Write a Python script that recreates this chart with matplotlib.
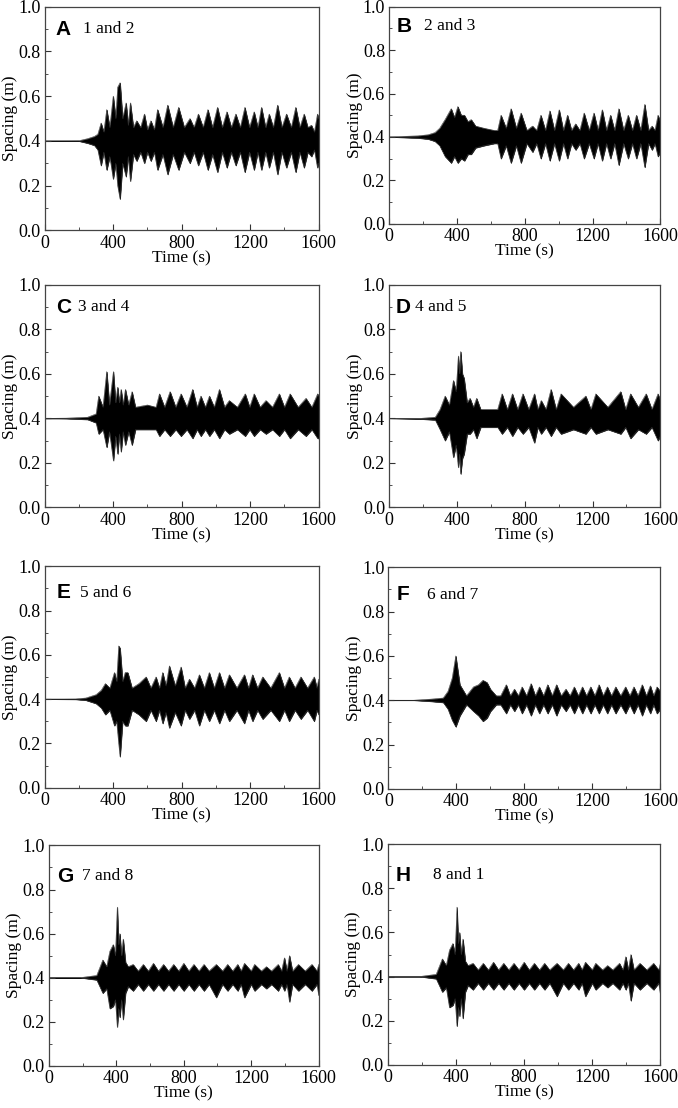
import matplotlib
matplotlib.use('Agg')
import matplotlib.pyplot as plt
from matplotlib.ticker import MultipleLocator

# envelope of the spacing signal (upper / lower)
tA = [0, 200, 250, 290, 310, 329, 345, 362, 380, 400, 415, 426, 440, 455, 475, 488, 500, 518, 537, 560,
      582, 600, 620, 640, 659, 690, 718, 750, 782, 815, 848, 872, 897, 925, 953, 980, 1009, 1037, 1064, 1090,
      1116, 1142, 1169, 1196, 1223, 1245, 1266, 1290, 1311, 1335, 1360, 1385, 1412, 1440, 1466, 1490, 1515, 1537, 1558, 1575,
      1593, 1600]
upA = [0.400, 0.401, 0.41, 0.42, 0.43, 0.48, 0.44, 0.54, 0.46, 0.60, 0.50, 0.64, 0.66, 0.50, 0.57, 0.47, 0.57, 0.46, 0.49, 0.46,
       0.52, 0.45, 0.49, 0.45, 0.54, 0.46, 0.56, 0.46, 0.55, 0.46, 0.50, 0.46, 0.52, 0.46, 0.54, 0.46, 0.55, 0.46, 0.53, 0.46,
       0.52, 0.46, 0.55, 0.46, 0.53, 0.46, 0.55, 0.46, 0.52, 0.46, 0.56, 0.46, 0.52, 0.46, 0.55, 0.46, 0.52, 0.46, 0.47, 0.44,
       0.52, 0.50]
loA = [0.400, 0.399, 0.39, 0.38, 0.36, 0.29, 0.35, 0.27, 0.33, 0.23, 0.30, 0.20, 0.14, 0.30, 0.24, 0.33, 0.22, 0.34, 0.31, 0.35,
       0.30, 0.35, 0.31, 0.35, 0.27, 0.34, 0.25, 0.34, 0.27, 0.35, 0.30, 0.35, 0.29, 0.35, 0.27, 0.34, 0.26, 0.35, 0.28, 0.35,
       0.29, 0.35, 0.26, 0.35, 0.27, 0.35, 0.27, 0.35, 0.28, 0.35, 0.25, 0.35, 0.28, 0.35, 0.26, 0.35, 0.28, 0.35, 0.33, 0.36,
       0.28, 0.30]

tB = [0, 170, 230, 270, 298, 330, 366, 385, 405, 425, 444, 465, 484, 510, 560, 620, 640, 660, 690, 719,
      750, 778, 812, 846, 870, 895, 922, 948, 975, 1003, 1028, 1052, 1076, 1100, 1125, 1150, 1180, 1208, 1232, 1257,
      1282, 1306, 1330, 1355, 1383, 1410, 1435, 1459, 1484, 1508, 1530, 1551, 1568, 1586, 1600]
upB = [0.400, 0.405, 0.41, 0.42, 0.44, 0.48, 0.53, 0.49, 0.54, 0.50, 0.50, 0.47, 0.48, 0.45, 0.44, 0.43, 0.43, 0.50, 0.44, 0.53,
       0.44, 0.51, 0.43, 0.45, 0.43, 0.50, 0.43, 0.52, 0.43, 0.525, 0.43, 0.50, 0.43, 0.46, 0.43, 0.51, 0.43, 0.51, 0.43, 0.525,
       0.43, 0.50, 0.43, 0.53, 0.43, 0.50, 0.43, 0.50, 0.43, 0.55, 0.43, 0.45, 0.43, 0.50, 0.47]
loB = [0.400, 0.395, 0.39, 0.38, 0.36, 0.31, 0.28, 0.31, 0.28, 0.30, 0.29, 0.32, 0.32, 0.35, 0.36, 0.37, 0.37, 0.30, 0.36, 0.28,
       0.36, 0.28, 0.37, 0.33, 0.37, 0.30, 0.37, 0.29, 0.37, 0.29, 0.37, 0.30, 0.37, 0.34, 0.37, 0.30, 0.37, 0.30, 0.37, 0.29,
       0.37, 0.30, 0.37, 0.27, 0.37, 0.30, 0.37, 0.30, 0.37, 0.26, 0.37, 0.34, 0.37, 0.31, 0.33]

tC = [0, 125, 250, 300, 315, 340, 362, 378, 401, 414, 426, 436, 446, 458, 471, 490, 510, 530, 600, 650,
      670, 700, 732, 765, 796, 830, 864, 890, 912, 938, 962, 990, 1020, 1050, 1078, 1125, 1171, 1197, 1223, 1258,
      1292, 1330, 1370, 1400, 1433, 1480, 1526, 1560, 1594, 1600]
upC = [0.400, 0.401, 0.405, 0.42, 0.50, 0.45, 0.61, 0.46, 0.61, 0.47, 0.54, 0.47, 0.53, 0.46, 0.53, 0.46, 0.52, 0.45, 0.46, 0.45,
       0.51, 0.45, 0.52, 0.45, 0.51, 0.45, 0.53, 0.45, 0.50, 0.45, 0.50, 0.45, 0.53, 0.45, 0.48, 0.45, 0.51, 0.45, 0.51, 0.45,
       0.48, 0.45, 0.51, 0.45, 0.51, 0.45, 0.49, 0.45, 0.51, 0.50]
loC = [0.400, 0.399, 0.395, 0.38, 0.33, 0.35, 0.27, 0.34, 0.21, 0.32, 0.24, 0.33, 0.25, 0.34, 0.28, 0.34, 0.28, 0.35, 0.35, 0.35,
       0.32, 0.35, 0.32, 0.35, 0.32, 0.35, 0.31, 0.35, 0.32, 0.35, 0.32, 0.35, 0.31, 0.35, 0.33, 0.35, 0.32, 0.35, 0.32, 0.35,
       0.33, 0.35, 0.32, 0.35, 0.31, 0.35, 0.32, 0.35, 0.31, 0.31]

tD = [0, 184, 272, 300, 330, 355, 379, 395, 408, 415, 422, 432, 442, 460, 477, 497, 516, 540, 640, 666,
      697, 727, 758, 789, 823, 857, 877, 897, 925, 955, 985, 1014, 1087, 1160, 1190, 1219, 1290, 1366, 1395, 1424,
      1470, 1516, 1550, 1586, 1600]
upD = [0.400, 0.400, 0.405, 0.44, 0.50, 0.46, 0.57, 0.52, 0.68, 0.60, 0.70, 0.60, 0.58, 0.47, 0.49, 0.45, 0.49, 0.44, 0.44, 0.51,
       0.44, 0.51, 0.44, 0.51, 0.44, 0.51, 0.44, 0.48, 0.44, 0.53, 0.44, 0.51, 0.45, 0.50, 0.44, 0.51, 0.45, 0.52, 0.44, 0.51,
       0.45, 0.51, 0.44, 0.51, 0.48]
loD = [0.400, 0.397, 0.393, 0.35, 0.30, 0.34, 0.225, 0.28, 0.18, 0.24, 0.15, 0.22, 0.24, 0.33, 0.33, 0.35, 0.31, 0.36, 0.36, 0.33,
       0.36, 0.32, 0.36, 0.33, 0.36, 0.29, 0.36, 0.33, 0.36, 0.32, 0.36, 0.33, 0.35, 0.33, 0.36, 0.33, 0.35, 0.33, 0.36, 0.31,
       0.35, 0.33, 0.36, 0.30, 0.32]

tE = [0, 180, 240, 300, 330, 354, 380, 407, 420, 432, 440, 455, 470, 485, 510, 550, 592, 620, 650, 670,
      689, 708, 728, 762, 796, 820, 845, 875, 903, 932, 961, 990, 1020, 1050, 1078, 1122, 1166, 1190, 1214, 1243,
      1273, 1320, 1370, 1400, 1428, 1462, 1496, 1535, 1574, 1590, 1600]
upE = [0.400, 0.401, 0.405, 0.42, 0.44, 0.47, 0.45, 0.52, 0.48, 0.64, 0.63, 0.48, 0.52, 0.52, 0.45, 0.47, 0.50, 0.45, 0.50, 0.45,
       0.52, 0.46, 0.55, 0.46, 0.545, 0.45, 0.49, 0.45, 0.51, 0.45, 0.52, 0.45, 0.52, 0.45, 0.51, 0.45, 0.51, 0.45, 0.51, 0.45,
       0.50, 0.45, 0.52, 0.45, 0.50, 0.45, 0.50, 0.45, 0.50, 0.45, 0.49]
loE = [0.400, 0.399, 0.395, 0.38, 0.36, 0.33, 0.35, 0.28, 0.30, 0.20, 0.14, 0.30, 0.28, 0.28, 0.35, 0.33, 0.30, 0.35, 0.30, 0.35,
       0.29, 0.34, 0.27, 0.34, 0.28, 0.35, 0.31, 0.35, 0.28, 0.35, 0.30, 0.35, 0.29, 0.35, 0.30, 0.35, 0.29, 0.35, 0.30, 0.35,
       0.31, 0.35, 0.30, 0.35, 0.30, 0.35, 0.31, 0.35, 0.30, 0.35, 0.33]

tF = [0, 146, 250, 322, 350, 375, 396, 420, 459, 500, 530, 556, 580, 600, 634, 660, 693, 717, 741, 764,
      786, 812, 839, 864, 888, 912, 937, 963, 989, 1016, 1044, 1068, 1093, 1117, 1141, 1165, 1190, 1214, 1239, 1263,
      1288, 1312, 1337, 1366, 1395, 1420, 1444, 1468, 1493, 1517, 1541, 1560, 1580, 1600]
upF = [0.400, 0.400, 0.405, 0.41, 0.44, 0.50, 0.60, 0.47, 0.42, 0.46, 0.47, 0.49, 0.48, 0.45, 0.42, 0.42, 0.47, 0.42, 0.45, 0.42,
       0.46, 0.42, 0.475, 0.42, 0.46, 0.42, 0.47, 0.42, 0.47, 0.42, 0.45, 0.42, 0.46, 0.42, 0.46, 0.42, 0.46, 0.42, 0.47, 0.42,
       0.46, 0.42, 0.46, 0.42, 0.46, 0.42, 0.46, 0.42, 0.47, 0.42, 0.465, 0.42, 0.46, 0.44]
loF = [0.400, 0.400, 0.395, 0.39, 0.36, 0.31, 0.28, 0.33, 0.38, 0.35, 0.33, 0.305, 0.32, 0.35, 0.38, 0.38, 0.34, 0.38, 0.35, 0.38,
       0.34, 0.38, 0.33, 0.38, 0.34, 0.38, 0.34, 0.38, 0.33, 0.38, 0.35, 0.38, 0.34, 0.38, 0.34, 0.38, 0.34, 0.38, 0.34, 0.38,
       0.34, 0.38, 0.34, 0.38, 0.34, 0.38, 0.34, 0.38, 0.33, 0.38, 0.34, 0.38, 0.34, 0.36]

tG = [0, 185, 284, 320, 343, 362, 382, 395, 406, 414, 421, 431, 441, 455, 471, 500, 530, 560, 590, 620,
      650, 680, 710, 740, 770, 800, 830, 860, 890, 920, 950, 993, 1030, 1060, 1090, 1120, 1140, 1160, 1200, 1220,
      1260, 1290, 1320, 1360, 1380, 1397, 1412, 1427, 1445, 1480, 1520, 1560, 1590, 1600]
upG = [0.400, 0.400, 0.41, 0.48, 0.45, 0.52, 0.55, 0.50, 0.72, 0.55, 0.60, 0.50, 0.575, 0.47, 0.45, 0.46, 0.43, 0.46, 0.43, 0.465,
       0.43, 0.46, 0.43, 0.46, 0.43, 0.465, 0.43, 0.46, 0.43, 0.46, 0.43, 0.46, 0.43, 0.46, 0.43, 0.46, 0.43, 0.465, 0.43, 0.46,
       0.43, 0.45, 0.43, 0.46, 0.43, 0.49, 0.43, 0.50, 0.43, 0.46, 0.43, 0.46, 0.43, 0.46]
loG = [0.400, 0.400, 0.39, 0.33, 0.35, 0.26, 0.27, 0.30, 0.176, 0.26, 0.22, 0.30, 0.21, 0.33, 0.36, 0.34, 0.37, 0.34, 0.37, 0.34,
       0.37, 0.34, 0.37, 0.34, 0.37, 0.34, 0.37, 0.34, 0.37, 0.34, 0.37, 0.31, 0.37, 0.34, 0.37, 0.34, 0.37, 0.31, 0.37, 0.34,
       0.37, 0.35, 0.37, 0.34, 0.37, 0.34, 0.37, 0.29, 0.37, 0.34, 0.37, 0.34, 0.37, 0.32]

tH = [0, 185, 284, 320, 343, 362, 382, 395, 406, 414, 421, 431, 441, 455, 471, 500, 530, 560, 590, 620,
      650, 680, 710, 740, 770, 800, 830, 860, 890, 920, 950, 993, 1030, 1060, 1090, 1120, 1140, 1160, 1200, 1220,
      1260, 1290, 1320, 1360, 1380, 1397, 1412, 1427, 1445, 1480, 1520, 1560, 1590, 1600]
upH = [0.400, 0.400, 0.41, 0.48, 0.45, 0.52, 0.55, 0.50, 0.715, 0.55, 0.60, 0.50, 0.57, 0.47, 0.45, 0.46, 0.43, 0.46, 0.43, 0.465,
       0.43, 0.46, 0.43, 0.46, 0.43, 0.465, 0.43, 0.46, 0.43, 0.46, 0.43, 0.46, 0.43, 0.46, 0.43, 0.46, 0.43, 0.465, 0.43, 0.46,
       0.43, 0.45, 0.43, 0.46, 0.43, 0.49, 0.43, 0.50, 0.43, 0.46, 0.43, 0.46, 0.43, 0.46]
loH = [0.400, 0.400, 0.39, 0.33, 0.35, 0.26, 0.27, 0.30, 0.175, 0.26, 0.22, 0.30, 0.21, 0.33, 0.36, 0.34, 0.37, 0.34, 0.37, 0.34,
       0.37, 0.34, 0.37, 0.34, 0.37, 0.34, 0.37, 0.34, 0.37, 0.34, 0.37, 0.31, 0.37, 0.34, 0.37, 0.34, 0.37, 0.31, 0.37, 0.34,
       0.37, 0.35, 0.37, 0.34, 0.37, 0.34, 0.37, 0.29, 0.37, 0.34, 0.37, 0.34, 0.37, 0.32]

letters = ['A', 'B', 'C', 'D', 'E', 'F', 'G', 'H']
pairs = ['1 and 2', '2 and 3', '3 and 4', '4 and 5', '5 and 6', '6 and 7', '7 and 8', '8 and 1']
series = [(tA, upA, loA), (tB, upB, loB), (tC, upC, loC), (tD, upD, loD),
          (tE, upE, loE), (tF, upF, loF), (tG, upG, loG), (tH, upH, loH)]

# axes boxes in figure fractions [left, bottom, width, height]
boxes = [[0.066, 0.792, 0.404, 0.202], [0.574, 0.798, 0.400, 0.196],
         [0.066, 0.542, 0.404, 0.201], [0.574, 0.542, 0.400, 0.201],
         [0.066, 0.289, 0.404, 0.200], [0.573, 0.288, 0.401, 0.200],
         [0.072, 0.038, 0.398, 0.199], [0.572, 0.039, 0.402, 0.199]]
letter_x = [0.041, 0.029, 0.041, 0.023, 0.044, 0.030, 0.030, 0.030]
text_x = [0.139, 0.127, 0.123, 0.096, 0.130, 0.143, 0.122, 0.165]
label_y = [0.90, 0.91, 0.90, 0.90, 0.88, 0.875, 0.86, 0.86]

serif = 'Liberation Serif'
fig = plt.figure(figsize=(6.78, 11.08), dpi=100)

for i in range(8):
    t, up, lo = series[i]
    ax = fig.add_axes(boxes[i])
    ax.fill_between(t, lo, up, color='black', lw=0.4)
    ax.plot(t, up, color='#333333', lw=0.4)
    ax.plot(t, lo, color='#333333', lw=0.4)
    ax.set_xlim(0, 1600)
    ax.set_ylim(0, 1.0)
    ax.xaxis.set_major_locator(MultipleLocator(400))
    ax.xaxis.set_minor_locator(MultipleLocator(200))
    ax.yaxis.set_major_locator(MultipleLocator(0.2))
    ax.yaxis.set_minor_locator(MultipleLocator(0.1))
    ax.yaxis.set_major_formatter(plt.FormatStrFormatter('%.1f'))
    ax.tick_params(which='both', direction='in', top=False, right=False, colors='#333333',
                   labelcolor='black', labelsize=13)
    ax.tick_params(axis='x', pad=3)
    ax.tick_params(axis='y', pad=3)
    ax.tick_params(which='major', length=4, width=0.8)
    ax.tick_params(which='minor', length=2, width=0.6)
    for lab in ax.get_xticklabels() + ax.get_yticklabels():
        lab.set_fontfamily(serif)
    for s in ax.spines.values():
        s.set_color('#444444')
        s.set_linewidth(0.9)
    ax.set_xlabel('Time (s)', fontfamily=serif, fontsize=12.5, labelpad=-1)
    ax.set_ylabel('Spacing (m)', fontfamily=serif, fontsize=12.5, labelpad=0)
    ax.text(letter_x[i], label_y[i], letters[i], transform=ax.transAxes, fontfamily='Liberation Sans',
            fontweight='bold', fontsize=15, va='center', ha='left')
    ax.text(text_x[i], label_y[i], pairs[i], transform=ax.transAxes, fontfamily=serif,
            fontsize=12.5, va='center', ha='left')

fig.savefig('out.png', dpi=100)
